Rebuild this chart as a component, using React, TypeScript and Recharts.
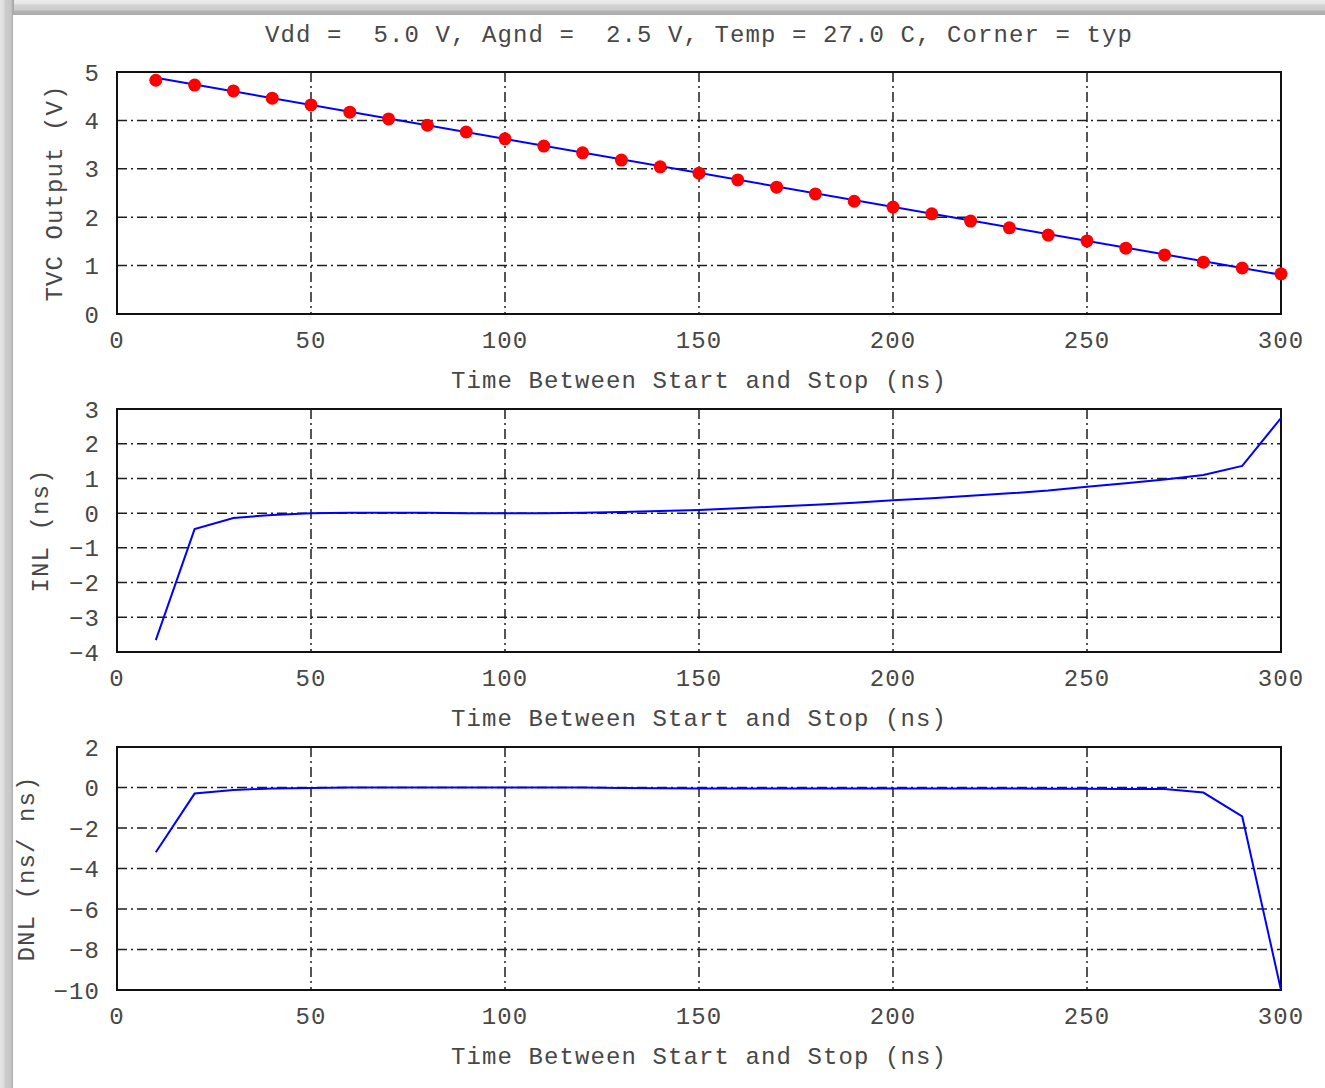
import React from 'react';
import { ComposedChart, Line, XAxis, YAxis, CartesianGrid, ReferenceArea, Label } from 'recharts';

const times = [10, 20, 30, 40, 50, 60, 70, 80, 90, 100, 110, 120, 130, 140, 150, 160, 170, 180, 190, 200, 210, 220, 230, 240, 250, 260, 270, 280, 290, 300];
const tvcOutput = [4.83, 4.73, 4.61, 4.46, 4.32, 4.17, 4.03, 3.9, 3.76, 3.62, 3.47, 3.33, 3.18, 3.04, 2.91, 2.77, 2.62, 2.48, 2.33, 2.21, 2.07, 1.92, 1.78, 1.63, 1.51, 1.36, 1.22, 1.07, 0.95, 0.83];
const fitTimes = [10, 300];
const fitOutput = [4.88, 0.81];
const inlValues = [-3.66, -0.46, -0.14, -0.05, 0.0, 0.01, 0.01, 0.01, 0.0, 0.0, 0.0, 0.01, 0.03, 0.06, 0.09, 0.14, 0.19, 0.24, 0.3, 0.37, 0.43, 0.5, 0.57, 0.65, 0.76, 0.86, 0.97, 1.1, 1.36, 2.74];
const dnlValues = [-3.2, -0.3, -0.12, -0.05, -0.02, 0.0, 0.0, 0.0, 0.0, 0.0, 0.0, 0.0, -0.02, -0.04, -0.05, -0.05, -0.05, -0.05, -0.05, -0.05, -0.05, -0.05, -0.05, -0.06, -0.06, -0.07, -0.08, -0.25, -1.43, -10];

const xTicks = [0, 50, 100, 150, 200, 250, 300];
const tvcTicks = [0, 1, 2, 3, 4, 5];
const inlTicks = [-4, -3, -2, -1, 0, 1, 2, 3];
const dnlTicks = [-10, -8, -6, -4, -2, 0, 2];

const titleText = 'Vdd =  5.0 V, Agnd =  2.5 V, Temp = 27.0 C, Corner = typ';
const xLabelText = 'Time Between Start and Stop (ns)';
const tvcLabel = 'TVC Output (V)';
const inlLabel = 'INL (ns)';
const dnlLabel = 'DNL (ns/ ns)';

const tvcData = times.map((t, i) => ({ x: t, v: tvcOutput[i] }));
const fitData = fitTimes.map((t, i) => ({ x: t, v: fitOutput[i] }));
const inlData = times.map((t, i) => ({ x: t, v: inlValues[i] }));
const dnlData = times.map((t, i) => ({ x: t, v: dnlValues[i] }));

const FONT = '"Liberation Mono", "DejaVu Sans Mono", monospace';
const TXT = '#474747';
const textProps = { fontFamily: FONT, fontSize: 24, letterSpacing: 1.1, fill: TXT };

const fmt = (v: number) => String(v).replace('-', '\u2212');

type PanelProps = {
  top: number;
  plotH: number;
  domain: [number, number];
  ticks: number[];
  yLabel: string;
  yLabelX: number;
  children: React.ReactNode;
  data: any[];
};

function Panel({ top, plotH, domain, ticks, yLabel, yLabelX, children, data }: PanelProps) {
  const H = 72 + plotH + 86;
  return (
    <div style={{ position: 'absolute', left: 0, top, width: 1325, height: H }}>
      <ComposedChart width={1325} height={H} data={data} margin={{ top: 72, right: 44, bottom: 0, left: 0 }}>
        <CartesianGrid stroke="#1e1e1e" strokeWidth={1.5} strokeDasharray="10 4 2 4" />
        <XAxis
          dataKey="x"
          type="number"
          domain={[0, 300]}
          ticks={xTicks}
          allowDataOverflow
          height={86}
          axisLine={false}
          tickLine={false}
          tickSize={0}
          tickMargin={17}
          tick={textProps}
          interval={0}
        >
          <Label
            content={(p: any) => {
              const vb = p.viewBox || { x: 117, y: 0, width: 1164 };
              return (
                <text x={vb.x + vb.width / 2} y={vb.y + 74} textAnchor="middle" {...textProps}>
                  {xLabelText}
                </text>
              );
            }}
          />
        </XAxis>
        <YAxis
          type="number"
          domain={domain}
          ticks={ticks}
          allowDataOverflow
          width={117}
          axisLine={false}
          tickLine={false}
          tickSize={0}
          tickMargin={17}
          tick={textProps}
          tickFormatter={fmt}
          interval={0}
        >
          <Label
            content={(p: any) => {
              const vb = p.viewBox || { y: 72, height: plotH };
              const cy = vb.y + vb.height / 2;
              return (
                <text x={yLabelX} y={cy} textAnchor="middle" transform={`rotate(-90, ${yLabelX}, ${cy})`} {...textProps}>
                  {yLabel}
                </text>
              );
            }}
          />
        </YAxis>
        <ReferenceArea x1={0} x2={300} y1={domain[0]} y2={domain[1]} fill="none" fillOpacity={0} stroke="#111" strokeWidth={2} ifOverflow="visible" />
        {children}
      </ComposedChart>
    </div>
  );
}

export default function App() {
  return (
    <div style={{ position: 'absolute', left: 0, top: 0, width: 1325, height: 1088, overflow: 'hidden', background: '#c8c8c8' }}>
      <div style={{ position: 'absolute', left: 0, top: 0, width: 1325, height: 16, background: 'linear-gradient(to bottom, #ececec 0px, #e4e4e4 4px, #d2d2d2 5px, #cdcdcd 10px, #b4b4b4 11px, #aaaaaa 15px)' }} />
      <div style={{ position: 'absolute', left: 0, top: 0, width: 14, height: 1088, background: 'linear-gradient(to right, #e6e6e6 0px, #dcdcdc 4px, #cccccc 5px, #c6c6c6 11px, #a8a8a8 13px)' }} />
      <div style={{ position: 'absolute', left: 13, top: 15, width: 1312, height: 1073, background: '#ffffff' }} />
      <svg style={{ position: 'absolute', left: 0, top: 0 }} width={1325} height={60}>
        <text x={699} y={42} textAnchor="middle" style={{ whiteSpace: 'pre' }} {...textProps}>
          {titleText}
        </text>
      </svg>
      <Panel top={0} plotH={242} domain={[0, 5]} ticks={tvcTicks} yLabel={tvcLabel} yLabelX={62} data={tvcData}>
        <Line dataKey="v" stroke="none" isAnimationActive={false} dot={{ r: 6.5, fill: '#ff0000', stroke: 'none', clipDot: false }} activeDot={false} />
        <Line data={fitData} dataKey="v" stroke="#0000ff" strokeWidth={2} dot={false} activeDot={false} isAnimationActive={false} />
      </Panel>
      <Panel top={337} plotH={243} domain={[-4, 3]} ticks={inlTicks} yLabel={inlLabel} yLabelX={48} data={inlData}>
        <Line dataKey="v" stroke="#0000ff" strokeWidth={2} dot={false} activeDot={false} isAnimationActive={false} />
      </Panel>
      <Panel top={675} plotH={243} domain={[-10, 2]} ticks={dnlTicks} yLabel={dnlLabel} yLabelX={34} data={dnlData}>
        <Line dataKey="v" stroke="#0000ff" strokeWidth={2} dot={false} activeDot={false} isAnimationActive={false} />
      </Panel>
    </div>
  );
}
